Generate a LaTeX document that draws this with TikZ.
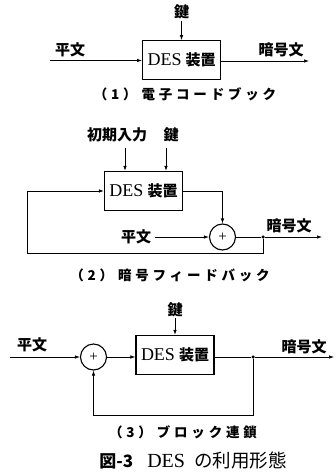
\documentclass[tikz,border=0pt]{standalone}
\usepackage{fontspec}
\setmainfont{Liberation Serif}
\newfontfamily\jp{Noto Sans CJK JP}
\newfontfamily\jpw[LetterSpace=28]{Noto Sans CJK JP}
\usetikzlibrary{arrows.meta}
\begin{document}
\begin{tikzpicture}[x=1pt,y=-1pt,
  blk/.style={draw, line width=1.3pt, minimum width=78pt, minimum height=39pt, inner sep=0pt, font=\fontsize{18}{18}\selectfont},
  sumc/.style={draw, circle, line width=1.1pt, minimum size=26pt, inner sep=0pt, font=\fontsize{15}{15}\selectfont},
  lab/.style={font=\jp\bfseries\fontsize{15}{15}\selectfont, inner sep=0pt},
  captxt/.style={font=\jpw\bfseries\fontsize{13.5}{13.5}\selectfont, inner sep=0pt},
  conn/.style={line width=0.7pt},
  arr/.style={conn, -{Latex[length=5pt,width=3.5pt]}},
  dotc/.style={circle, fill, inner sep=0pt, minimum size=3.5pt}
]
\useasboundingbox (0,0) rectangle (336,473);
\newcommand{\boxtext}{DES\hspace{4pt}{\jp\bfseries\fontsize{15}{15}\selectfont 装置}}

% ---------- (1) ----------
\node[blk] (b1) at (181.7,60.3) {\boxtext};
\node[lab] (k1) at (181.5,12) {鍵};
\coordinate (k1s) at (181.5,21);
\draw[arr] (k1s) -- (b1.north -| k1s);
\coordinate (in1) at (50,60.5);
\node[lab] (p1) at (70,50) {平文};
\draw[arr] (in1) -- (b1.west |- in1);
\coordinate (out1) at (309,61);
\node[lab] (c1) at (281,50) {暗号文};
\draw[arr] (b1.east |- out1) -- (out1);
\node[captxt] (cap1) at (185,94) {（1）\hspace{5pt}電子コードブック};

% ---------- (2) ----------
\node[blk] (b2) at (143.5,191) {\boxtext};
\node[lab] (iv) at (117,135) {初期入力};
\node[lab] (k2) at (171,135) {鍵};
\coordinate (ivs) at (125,148);
\coordinate (k2s) at (166,148);
\draw[arr] (ivs) -- (b2.north -| ivs);
\draw[arr] (k2s) -- (b2.north -| k2s);
\node[sumc] (s2) at (222.5,237) {+};
\draw[arr] (b2.east) -| (s2.north);
\node[lab] (p2) at (136,237) {平文};
\coordinate (in2) at (155,237);
\draw[arr] (in2) -- (s2.west);
\node[dotc] (d2) at (263,237) {};
\coordinate (out2) at (322,237);
\node[lab] (c2) at (289,226) {暗号文};
\draw[conn] (s2.east) -- (d2);
\draw[arr] (d2) -- (out2);
\coordinate (fb2a) at (263,253);
\coordinate (fb2b) at (27,253);
\coordinate (fb2c) at (27,191);
\draw[arr] (d2) -- (fb2a) -- (fb2b) -- (fb2c) -- (b2.west);
\node[captxt] (cap2) at (170,275) {（2）\hspace{5pt}暗号フィードバック};

% ---------- (3) ----------
\node[blk] (b3) at (175,355) {\boxtext};
\node[lab] (k3) at (175,310) {鍵};
\coordinate (k3s) at (175,318);
\draw[arr] (k3s) -- (b3.north);
\node[sumc] (s3) at (93.5,357) {+};
\node[lab] (p3) at (32,345) {平文};
\coordinate (in3) at (10,357);
\draw[arr] (in3) -- (s3.west);
\draw[arr] (s3.east) -- (b3.west |- s3.east);
\node[dotc] (d3) at (253,357) {};
\draw[conn] (b3.east |- d3) -- (d3);
\coordinate (out3) at (334,357);
\node[lab] (c3) at (304,347) {暗号文};
\draw[arr] (d3) -- (out3);
\coordinate (fb3a) at (253,415);
\coordinate (fb3b) at (93.5,415);
\draw[arr] (d3) -- (fb3a) -- (fb3b) -- (s3.south);
\node[captxt] (cap3) at (183,432) {（3）\hspace{5pt}ブロック連鎖};

% ---------- caption ----------
\node[inner sep=0pt] (fig) at (193,460) {{\jp\fontsize{17}{17}\selectfont\bfseries 図-3}\hspace{14pt}{\fontsize{20}{20}\selectfont DES}\hspace{9pt}{\jp\fontsize{18.5}{18.5}\selectfont の利用形態}};
\end{tikzpicture}
\end{document}
